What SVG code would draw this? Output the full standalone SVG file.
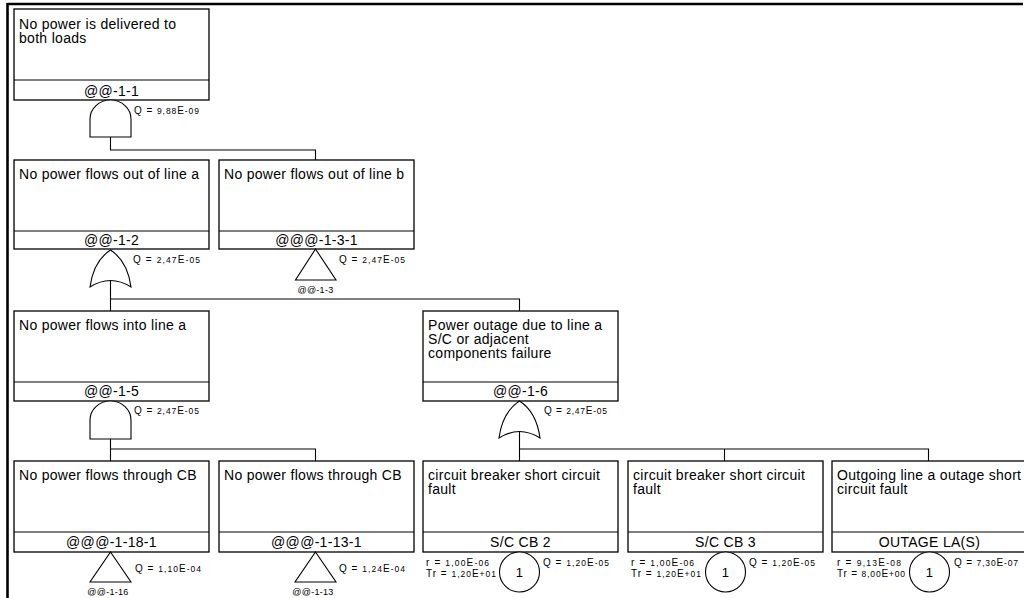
<svg xmlns="http://www.w3.org/2000/svg" width="1024" height="598" viewBox="0 0 1024 598">
<style>
.box{fill:#fff;stroke:#000;stroke-width:1.3}
.div{stroke:#000;stroke-width:1.2}
.t{font-family:"Liberation Sans",Arial,sans-serif;font-size:14px;letter-spacing:0.3px;fill:#000}
.c{text-anchor:middle}
.gate{fill:#fff;stroke:#000;stroke-width:1.1}
.q{font-family:"Liberation Sans",Arial,sans-serif;font-size:8.5px;fill:#000}
.b{font-size:10px}
.s{font-family:"Liberation Sans",Arial,sans-serif;font-size:9px;letter-spacing:0.3px;text-anchor:middle;fill:#000}
.conn{fill:none;stroke:#000;stroke-width:1.1}
.frame{stroke:#000;stroke-width:2.6}
</style>
<line class="frame" x1="7.5" y1="4" x2="1023" y2="4"/>
<line class="frame" x1="7.5" y1="3" x2="7.5" y2="598"/>

<g id="connectors">
<path class="conn" d="M110.5,137 V150 H315.5 V160"/>
<path class="conn" d="M110.5,281 V311 M110.5,299 H519.5 V311"/>
<path class="conn" d="M110.5,439 V461 M110.5,449 H315.5 V461"/>
<path class="conn" d="M519.5,432 V461 M519.5,449 H928.5 V461 M724.5,449 V461"/>
</g>

<g id="n1">
<rect class="box" x="14" y="9" width="195" height="91"/>
<line class="div" x1="14" y1="80" x2="209" y2="80"/>
<text class="t" x="19" y="29">No power is delivered to</text>
<text class="t" x="19" y="43">both loads</text>
<text class="t c" x="111.5" y="96">@@-1-1</text>
<path class="gate" d="M90,137 V119 A20.5,19 0 0 1 131,119 V137 Z"/>
<text class="q" x="134" y="114" textLength="65"><tspan class="b">Q = </tspan>9,88<tspan class="b">E</tspan>-09</text>
</g>

<g id="n2a">
<rect class="box" x="14" y="160" width="195" height="89"/>
<line class="div" x1="14" y1="231" x2="209" y2="231"/>
<text class="t" x="19" y="179">No power flows out of line a</text>
<text class="t c" x="111.5" y="245">@@-1-2</text>
<path class="gate" d="M110.5,250 Q93.5,261 90,287 Q110.5,274 131,287 Q127.5,261 110.5,250 Z"/>
<text class="q" x="133" y="263" textLength="67"><tspan class="b">Q = </tspan>2,47<tspan class="b">E</tspan>-05</text>
</g>

<g id="n2b">
<rect class="box" x="219" y="160" width="195" height="89"/>
<line class="div" x1="219" y1="231" x2="414" y2="231"/>
<text class="t" x="224" y="179">No power flows out of line b</text>
<text class="t c" x="316.5" y="245">@@@-1-3-1</text>
<path class="gate" d="M315.5,249 L336,280 H295.5 Z"/>
<text class="q" x="339" y="263" textLength="66"><tspan class="b">Q = </tspan>2,47<tspan class="b">E</tspan>-05</text>
<text class="s" x="315.5" y="293">@@-1-3</text>
</g>

<g id="n3a">
<rect class="box" x="14" y="311" width="195" height="90"/>
<line class="div" x1="14" y1="382" x2="209" y2="382"/>
<text class="t" x="19" y="330">No power flows into line a</text>
<text class="t c" x="111.5" y="396">@@-1-5</text>
<path class="gate" d="M90,439 V420 A20.5,19 0 0 1 131,420 V439 Z"/>
<text class="q" x="134" y="414" textLength="65"><tspan class="b">Q = </tspan>2,47<tspan class="b">E</tspan>-05</text>
</g>

<g id="n3b">
<rect class="box" x="423" y="311" width="195" height="90"/>
<line class="div" x1="423" y1="382" x2="618" y2="382"/>
<text class="t" x="428" y="330">Power outage due to line a</text>
<text class="t" x="428" y="344">S/C or adjacent</text>
<text class="t" x="428" y="358">components failure</text>
<text class="t c" x="520.5" y="396">@@-1-6</text>
<path class="gate" d="M519.5,401 Q502.5,412 499,438 Q519.5,425 540,438 Q536.5,412 519.5,401 Z"/>
<text class="q" x="544" y="414" textLength="63"><tspan class="b">Q = </tspan>2,47<tspan class="b">E</tspan>-05</text>
</g>

<g id="n4a">
<rect class="box" x="14" y="461" width="195" height="91"/>
<line class="div" x1="14" y1="532" x2="209" y2="532"/>
<text class="t" x="19" y="480">No power flows through CB</text>
<text class="t c" x="111.5" y="547">@@@-1-18-1</text>
<path class="gate" d="M110.5,552 L131,582 H90 Z"/>
<text class="q" x="135" y="572" textLength="66"><tspan class="b">Q = </tspan>1,10<tspan class="b">E</tspan>-04</text>
<text class="s" x="108" y="595">@@-1-16</text>
</g>

<g id="n4b">
<rect class="box" x="219" y="461" width="195" height="91"/>
<line class="div" x1="219" y1="532" x2="414" y2="532"/>
<text class="t" x="224" y="480">No power flows through CB</text>
<text class="t c" x="316.5" y="547">@@@-1-13-1</text>
<path class="gate" d="M315.5,552 L336,582 H295 Z"/>
<text class="q" x="339" y="572" textLength="66"><tspan class="b">Q = </tspan>1,24<tspan class="b">E</tspan>-04</text>
<text class="s" x="313" y="595">@@-1-13</text>
</g>

<g id="n4c">
<rect class="box" x="423" y="461" width="195" height="91"/>
<line class="div" x1="423" y1="532" x2="618" y2="532"/>
<text class="t" x="428" y="480">circuit breaker short circuit</text>
<text class="t" x="428" y="494">fault</text>
<text class="t c" x="520.5" y="547">S/C CB 2</text>
<circle class="gate" cx="519.5" cy="572" r="20"/>
<text class="t c" x="519.5" y="577" style="font-size:13px">1</text>
<text class="q" x="426" y="566" textLength="63"><tspan class="b">r = </tspan>1,00<tspan class="b">E</tspan>-06</text>
<text class="q" x="426" y="577" textLength="70"><tspan class="b">Tr = </tspan>1,20<tspan class="b">E</tspan>+01</text>
<text class="q" x="543" y="566" textLength="66"><tspan class="b">Q = </tspan>1,20<tspan class="b">E</tspan>-05</text>
</g>

<g id="n4d">
<rect class="box" x="628" y="461" width="195" height="91"/>
<line class="div" x1="628" y1="532" x2="823" y2="532"/>
<text class="t" x="633" y="480">circuit breaker short circuit</text>
<text class="t" x="633" y="494">fault</text>
<text class="t c" x="725.5" y="547">S/C CB 3</text>
<circle class="gate" cx="725.5" cy="572" r="20"/>
<text class="t c" x="725.5" y="577" style="font-size:13px">1</text>
<text class="q" x="631" y="566" textLength="63"><tspan class="b">r = </tspan>1,00<tspan class="b">E</tspan>-06</text>
<text class="q" x="631" y="577" textLength="70"><tspan class="b">Tr = </tspan>1,20<tspan class="b">E</tspan>+01</text>
<text class="q" x="749" y="566" textLength="66"><tspan class="b">Q = </tspan>1,20<tspan class="b">E</tspan>-05</text>
</g>

<g id="n4e">
<rect class="box" x="832" y="461" width="195" height="91"/>
<line class="div" x1="832" y1="532" x2="1027" y2="532"/>
<text class="t" x="837" y="480">Outgoing line a outage short</text>
<text class="t" x="837" y="494">circuit fault</text>
<text class="t c" x="929.5" y="547">OUTAGE LA(S)</text>
<circle class="gate" cx="929.5" cy="572" r="20"/>
<text class="t c" x="929.5" y="577" style="font-size:13px">1</text>
<text class="q" x="837" y="566" textLength="64"><tspan class="b">r = </tspan>9,13<tspan class="b">E</tspan>-08</text>
<text class="q" x="837" y="577" textLength="68"><tspan class="b">Tr = </tspan>8,00<tspan class="b">E</tspan>+00</text>
<text class="q" x="954" y="566" textLength="64"><tspan class="b">Q = </tspan>7,30<tspan class="b">E</tspan>-07</text>
</g>
</svg>
